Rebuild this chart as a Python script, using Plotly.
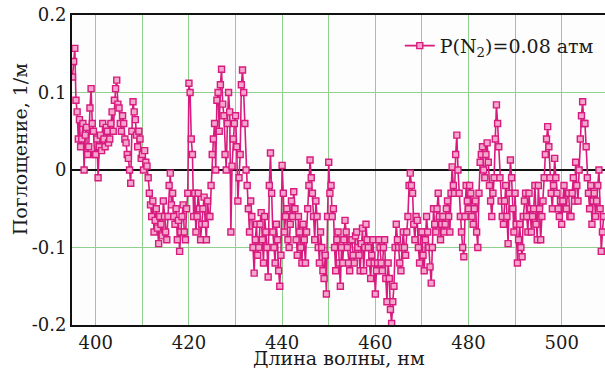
import plotly.graph_objects as go

wavelength_start = 395.0
wavelength_step = 0.25
absorption = [
    # 395 - 399.75
    0.12, 0.14, 0.157, 0.09, 0.075, 0.04, 0.065, 0.03, 0.04, 0.06,
    0.0, 0.045, 0.055, 0.02, 0.03, 0.08, 0.105, 0.06, 0.05, 0.02,
    # 400 - 404.75
    0.02, 0.04, -0.01, 0.03, 0.045, 0.025, 0.06, 0.04, 0.03, 0.055,
    0.05, 0.035, 0.04, 0.06, 0.075, 0.05, 0.09, 0.105, 0.116, 0.085,
    # 405 - 409.75
    0.08, 0.06, 0.05, 0.07, 0.06, 0.04, 0.035, 0.02, 0.015, 0.0,
    -0.017, 0.05, 0.088, 0.075, 0.065, 0.045, 0.03, 0.05, 0.04, 0.015,
    # 410 - 414.75
    0.02, 0.0, 0.025, 0.01, 0.005, -0.01, -0.03, -0.045, -0.06, -0.04,
    -0.08, -0.065, -0.05, -0.075, -0.095, -0.06, -0.07, -0.085, -0.04, -0.06,
    # 415 - 419.75
    -0.08, -0.09, -0.06, -0.02, -0.004, -0.045, -0.03, -0.06, -0.07, -0.05,
    -0.09, -0.065, -0.105, -0.08, -0.06, -0.045, -0.08, -0.09, -0.05, -0.03,
    # 420 - 424.75
    0.112, 0.1, 0.04, 0.02, -0.06, -0.03, -0.08, -0.06, -0.03, -0.05,
    -0.09, -0.07, -0.05, -0.035, -0.07, -0.09, -0.04, -0.06, -0.06, -0.02,
    # 425 - 429.75
    0.02, 0.04, 0.06, 0.0, 0.09, 0.1, 0.05, 0.11, 0.13, 0.085,
    0.07, 0.02, 0.0, 0.06, 0.1, 0.075, -0.08, 0.005, 0.04, 0.06,
    # 430 - 434.75
    0.07, 0.03, -0.04, -0.01, 0.02, 0.11, 0.129, 0.1, 0.06, 0.0,
    -0.02, -0.05, -0.08, -0.04, -0.06, -0.1, -0.133, -0.09, -0.07, -0.11,
    # 435 - 439.75
    -0.1, -0.07, -0.055, -0.09, -0.12, -0.06, -0.08, -0.1, -0.138, -0.02,
    0.022, -0.03, -0.08, -0.1, -0.12, -0.07, -0.09, -0.13, -0.15, -0.11,
    # 440 - 444.75
    0.006, -0.03, -0.08, -0.06, -0.05, -0.09, -0.1, -0.07, -0.04, -0.06,
    -0.028, -0.05, -0.09, -0.11, -0.06, -0.08, -0.1, -0.12, -0.07, -0.09,
    # 445 - 449.75
    -0.12, -0.08, -0.05, -0.02, 0.013, -0.01, -0.03, -0.06, -0.09, -0.04,
    -0.06, -0.1, -0.12, -0.08, -0.1, -0.13, -0.14, -0.11, -0.16, -0.06,
    # 450 - 454.75
    0.01, -0.03, -0.02, -0.06, -0.05, -0.1, -0.13, -0.09, -0.08, -0.12,
    -0.15, -0.1, -0.12, -0.09, -0.065, -0.08, -0.1, -0.12, -0.13, -0.09,
    # 455 - 459.75
    -0.09, -0.11, -0.12, -0.085, -0.08, -0.1, -0.11, -0.13, -0.095, -0.075,
    -0.13, -0.1, -0.07, -0.09, -0.1, -0.12, -0.14, -0.11, -0.09, -0.12,
    # 460 - 464.75
    -0.16, -0.13, -0.12, -0.09, -0.1, -0.12, -0.13, -0.1, -0.09, -0.14,
    -0.17, -0.12, -0.14, -0.18, -0.198, -0.17, -0.15, -0.1, -0.07, -0.09,
    # 465 - 469.75
    -0.1, -0.12, -0.13, -0.1, -0.08, -0.1, -0.11, -0.08, -0.06, -0.02,
    -0.004, -0.02, -0.03, -0.07, -0.09, -0.06, -0.065, -0.1, -0.12, -0.08,
    # 470 - 474.75
    -0.08, -0.11, -0.13, -0.09, -0.06, -0.08, -0.1, -0.125, -0.146, -0.1,
    -0.05, -0.07, -0.08, -0.05, -0.03, -0.06, -0.09, -0.07, -0.06, -0.08,
    # 475 - 479.75
    -0.07, -0.05, -0.04, -0.06, -0.08, -0.03, 0.004, -0.02, -0.03, 0.02,
    0.045, 0.0, -0.03, -0.06, -0.08, -0.1, -0.112, -0.06, -0.02, -0.04,
    # 480 - 484.75
    -0.05, -0.02, -0.03, -0.06, -0.07, -0.05, -0.04, -0.08, -0.1, -0.03,
    0.01, 0.02, 0.03, 0.0, -0.01, 0.02, 0.035, 0.01, -0.02, -0.04,
    # 485 - 489.75
    -0.06, -0.03, -0.01, 0.04, 0.084, 0.06, 0.03, -0.01, -0.04, -0.06,
    -0.07, -0.04, -0.02, -0.06, -0.095, -0.03, 0.013, -0.01, -0.05, -0.08,
    # 490 - 494.75
    -0.03, -0.07, -0.12, -0.09, -0.07, -0.1, -0.112, -0.06, -0.04, -0.03,
    -0.06, -0.08, -0.03, -0.05, -0.08, -0.06, -0.05, -0.02, -0.07, -0.09,
    # 495 - 499.75
    -0.02, -0.05, -0.09, -0.06, -0.04, -0.01, 0.02, 0.04, 0.056, 0.03,
    -0.01, -0.03, -0.05, -0.02, 0.015, -0.01, -0.03, -0.05, -0.06, -0.04,
    # 500 - 504.75
    -0.07, -0.04, -0.02, -0.05, -0.05, -0.03, -0.03, -0.06, -0.06, -0.03,
    -0.01, -0.04, 0.01, -0.02, -0.04, 0.0, 0.04, 0.07, 0.088, 0.06,
    # 505 - 509
    0.06, 0.03, -0.01, -0.03, -0.05, -0.02, -0.07, -0.04, -0.03, -0.06,
    -0.04, -0.02, 0.0, -0.05, -0.105, -0.08, -0.06,
]
wavelength = [wavelength_start + i * wavelength_step for i in range(len(absorption))]

x_ticks = [400, 420, 440, 460, 480, 500]
x_minor_grid = [410, 430, 450, 470, 490]
y_ticks = [-0.2, -0.1, 0, 0.1, 0.2]
y_tick_labels = ["-0.2", "-0.1", "0", "0.1", "0.2"]

series_name = "P(N<sub>2</sub>)=0.08 атм"
x_title = "Длина волны, нм"
y_title = "Поглощение, 1/м"

serif = "DejaVu Serif"
pink = "#d81b7e"
grid_green = "#8fd08f"
text_color = "#1a1a1a"

fig = go.Figure()
fig.add_trace(go.Scatter(
    x=wavelength, y=absorption, mode="lines+markers", name=series_name,
    line=dict(color=pink, width=1.6),
    marker=dict(symbol="square", size=6, color="#f4a6cc",
                line=dict(color=pink, width=1.4)),
))

fig.update_layout(
    width=605, height=369,
    margin=dict(l=72, r=0, t=15, b=44),
    paper_bgcolor="white", plot_bgcolor="#fdfdfd",
    font=dict(family=serif, size=18, color=text_color),
    showlegend=True,
    legend=dict(x=0.615, y=0.962, xanchor="left", yanchor="top",
                bgcolor="rgba(0,0,0,0)", font=dict(family=serif, size=19, color=text_color),
                itemwidth=30),
)
fig.update_xaxes(
    range=[394.9, 509.3], tickvals=x_ticks, ticks="",
    showgrid=True, gridcolor=grid_green, gridwidth=1,
    minor=dict(tickvals=x_minor_grid, showgrid=True, gridcolor=grid_green, gridwidth=1),
    showline=True, linecolor="#111", linewidth=2, mirror=True,
    zeroline=False,
    tickfont=dict(family=serif, size=18, color=text_color),
)
fig.update_yaxes(
    range=[-0.2, 0.2], tickvals=y_ticks, ticktext=y_tick_labels, ticks="",
    showgrid=True, gridcolor=grid_green, gridwidth=1,
    showline=True, linecolor="#111", linewidth=2,
    zeroline=True, zerolinecolor="#111", zerolinewidth=2,
    ticklabeloverflow="allow",
    tickfont=dict(family=serif, size=18, color=text_color),
)
fig.add_annotation(text=x_title, xref="paper", yref="paper", x=0.5, y=-0.106,
                   xanchor="center", yanchor="middle", showarrow=False,
                   font=dict(family=serif, size=19, color=text_color))
fig.add_annotation(text=y_title, xref="paper", yref="paper", x=-0.0976, y=0.57,
                   xanchor="center", yanchor="middle", showarrow=False, textangle=-90,
                   font=dict(family=serif, size=19, color=text_color))

fig.write_html("out.html", config={"displayModeBar": False},
               post_script="document.body.style.margin='0';")
